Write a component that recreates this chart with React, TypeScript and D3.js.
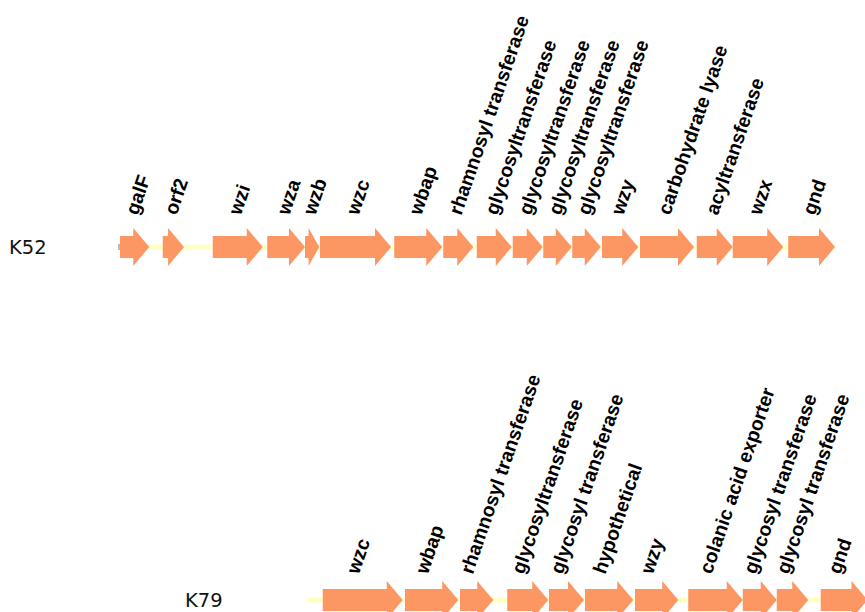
import React from "react";
import * as d3 from "d3";

// ---- data (positions in bp) ----
const rowNames = ["K52", "K79"];

const k52Names = ["galF", "orf2", "wzi", "wza", "wzb", "wzc", "wbap", "rhamnosyl transferase", "glycosyltransferase", "glycosyltransferase", "glycosyltransferase", "glycosyltransferase", "wzy", "carbohydrate lyase", "acyltransferase", "wzx", "gnd"];
const k52Starts = [0, 1710, 3710, 5890, 7400, 8000, 10970, 12930, 14270, 15710, 16930, 18090, 19280, 20800, 23070, 24510, 26730];
const k52Ends = [1170, 2560, 5710, 7400, 7970, 10840, 12890, 14130, 15670, 16910, 18070, 19230, 20730, 22960, 24510, 26530, 28600];
const k52Span = [0, 28600];

const k79Names = ["wzc", "wbap", "rhamnosyl transferase", "glycosyltransferase", "glycosyl transferase", "hypothetical", "wzy", "colanic acid exporter", "glycosyl transferase", "glycosyl transferase", "gnd"];
const k79Starts = [8110, 11400, 13600, 15490, 17160, 18600, 20600, 22730, 24910, 26270, 28030];
const k79Ends = [11310, 13530, 14930, 17130, 18560, 20530, 22330, 24910, 26270, 27530, 29900];
const k79Span = [7470, 29900];

const rows = [
  { name: rowNames[0], names: k52Names, starts: k52Starts, ends: k52Ends, span: k52Span },
  { name: rowNames[1], names: k79Names, starts: k79Starts, ends: k79Ends, span: k79Span },
];

// ---- layout ----
const W = 865;
const H = 612;
const rowY = [247, 600];
const labelDy = [-31, -25];
const labelDx = [3, -4];
const rowLabelX = [9, 185];
const BODY = 11;
const HEAD = 19;
const HEADLEN = 16;
const FILL = "#FC9764";
const LINE = "#FFFFC4";

const x = d3.scaleLinear().domain([0, 30000]).range([120, 870]);

function arrowPath(x0: number, x1: number, cy: number) {
  const len = x1 - x0;
  const hl = Math.min(HEADLEN, len * 0.75);
  const p = d3.path();
  p.moveTo(x0, cy - BODY);
  p.lineTo(x1 - hl, cy - BODY);
  p.lineTo(x1 - hl, cy - HEAD);
  p.lineTo(x1, cy);
  p.lineTo(x1 - hl, cy + HEAD);
  p.lineTo(x1 - hl, cy + BODY);
  p.lineTo(x0, cy + BODY);
  p.closePath();
  return p.toString();
}

export default function App() {
  return (
    <svg
      width={W}
      height={H}
      style={{ position: "absolute", left: 0, top: 0, background: "#fff" }}
    >
      {rows.map((r, ri) => {
        const cy = rowY[ri];
        return (
          <g key={r.name}>
            <text
              x={rowLabelX[ri]}
              y={cy + 7}
              fontFamily="DejaVu Sans, Verdana, sans-serif"
              fontSize={19.5}
              fill="#111"
            >
              {r.name}
            </text>
            <line
              x1={x(r.span[0])}
              x2={x(r.span[1])}
              y1={cy}
              y2={cy}
              stroke={LINE}
              strokeWidth={5}
            />
            {ri === 0 && (
              <rect x={x(r.span[0]) - 2} y={cy - 3} width={3} height={6} fill="#bbb" />
            )}
            {r.names.map((n, i) => {
              const x0 = x(r.starts[i]);
              const x1 = x(r.ends[i]);
              return <path key={"a" + i} d={arrowPath(x0, x1, cy)} fill={FILL} />;
            })}
            {r.names.map((n, i) => {
              const xc = (x(r.starts[i]) + x(r.ends[i])) / 2 + labelDx[ri];
              const ly = cy + labelDy[ri];
              return (
                <text
                  key={"t" + i}
                  transform={`translate(${xc},${ly}) rotate(-71)`}
                  fontFamily="Liberation Sans, Arial, sans-serif"
                  fontWeight="bold"
                  fontSize={19.5}
                  fill="#000"
                >
                  {n}
                </text>
              );
            })}
          </g>
        );
      })}
    </svg>
  );
}
